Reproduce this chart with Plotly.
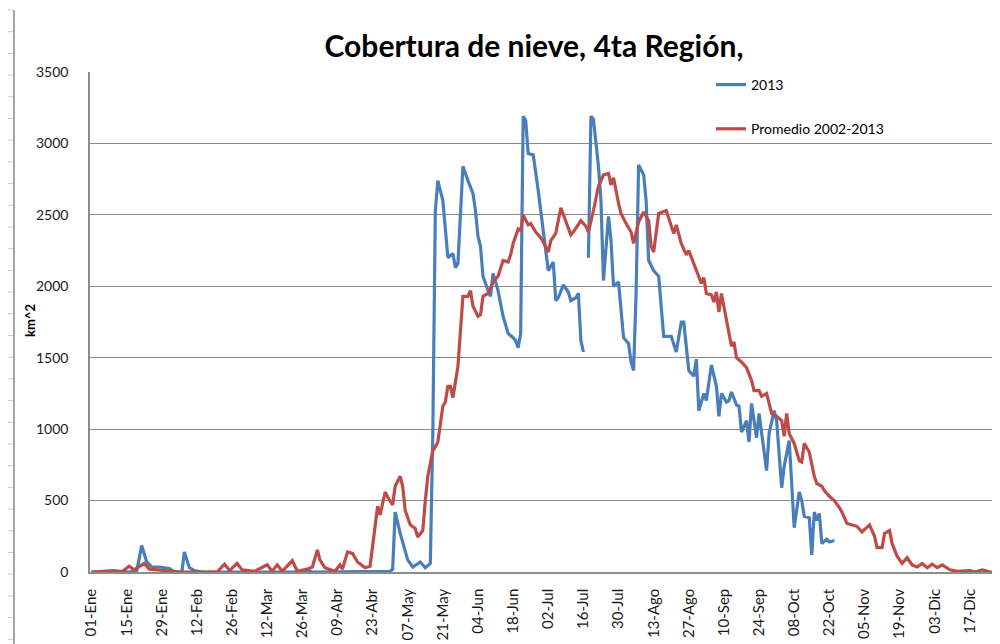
import plotly.graph_objects as go

# dia del año (1 = 01-Ene) y superficie cubierta de nieve en km^2
dias_2013 = [1, 10, 15, 19, 21, 23, 25, 28, 32, 34, 37, 38, 40, 42, 45, 85, 87, 89, 120,
             121, 122, 124, 127, 129, 132, 134, 136, 137, 138, 139, 141, 142, 143, 145, 146,
             147, 148, 149, 151, 153, 154, 155, 156, 157, 159, 160, 161, 163, 165, 167, 169,
             170, 171, 172, 173, 174, 175, 177, 179, 181, 183, 185, 186, 187, 189, 191, 192,
             194, 195, 196, 197, 198, 199, 200, 201, 203, 204, 205, 207, 208, 209, 211, 213,
             215, 216, 217, 218, 219, 221, 222, 223, 225, 227, 229, 232, 234, 236, 237, 239,
             241, 242, 243, 245, 246, 248, 250, 251, 252, 254, 255, 256, 258, 259, 260, 262,
             263, 264, 265, 266, 267, 269, 270, 271, 273, 274, 276, 277, 279, 281, 283, 284,
             285, 287, 288, 289, 290, 291, 292, 294, 295, 297]
km2_2013 = [0, 10, 0, 5, 185, 70, 35, 35, 25, 0, 0, 140, 30, 10, 0, 0, 10, 0, 5,
            20, 420, 270, 85, 35, 70, 30, 60, 970, 2530, 2740, 2600, 2370, 2200, 2230, 2130,
            2160, 2490, 2840, 2740, 2650, 2530, 2350, 2280, 2070, 1970, 1930, 2090, 1970, 1790, 1670, 1640,
            1620, 1570, 1670, 3190, 3160, 2930, 2920, 2670, 2390, 2110, 2170, 1900, 1920, 2010, 1960, 1900,
            1920, 1950, 1620, 1540, None, 2200, 3190, 3170, 2840, 2600, 2040, 2490, 2320, 2000, 2030, 1640,
            1600, 1470, 1410, 1950, 2850, 2780, 2600, 2180, 2110, 2070, 1650, 1650, 1540, 1750, 1750, 1410,
            1370, 1490, 1130, 1250, 1200, 1450, 1300, 1090, 1250, 1190, 1200, 1260, 1170, 1160, 980, 1060,
            910, 1180, 1040, 940, 1110, 850, 710, 970, 1130, 1060, 590, 740, 920, 310, 560, 500,
            390, 380, 120, 420, 360, 410, 200, 230, 210, 220]

dias_prom = [1, 10, 13, 16, 18, 22, 24, 32, 37, 51, 54, 56, 59, 61, 66, 71, 73, 75, 77, 81,
             83, 87, 89, 91, 92, 94, 98, 100, 101, 103, 105, 107, 110, 112, 113, 114, 115, 116,
             118, 119, 121, 122, 124, 125, 126, 128, 130, 131, 133, 134, 135, 137, 138, 139, 141,
             142, 143, 144, 145, 147, 148, 149, 151, 152, 153, 155, 156, 157, 159, 161, 163, 165,
             167, 168, 169, 171, 172, 173, 175, 176, 178, 180, 181, 183, 184, 186, 188, 190, 192,
             193, 195, 196, 198, 199, 201, 203, 205, 207, 208, 209, 211, 212, 214, 216, 217, 219,
             221, 223, 224, 225, 227, 230, 233, 234, 236, 238, 239, 242, 244, 245, 246, 248, 249,
             250, 251, 252, 254, 256, 257, 258, 260, 262, 264, 265, 267, 268, 270, 272, 274, 276,
             277, 278, 279, 281, 283, 284, 285, 287, 289, 290, 292, 293, 295, 297, 299, 300, 302,
             304, 306, 308, 311, 313, 314, 316, 317, 319, 320, 322, 324, 326, 328, 330, 332, 334,
             336, 338, 340, 343, 346, 351, 353, 356, 359, 365]
km2_prom = [0, 5, 0, 40, 15, 60, 20, 10, 0, 0, 55, 10, 60, 15, 5, 50, 5, 50, 5, 80,
            5, 20, 35, 155, 85, 30, 5, 50, 20, 140, 130, 70, 30, 40, 170, 300, 460, 400,
            560, 525, 470, 600, 670, 600, 430, 330, 305, 245, 290, 500, 670, 850, 875, 910, 1160,
            1190, 1300, 1300, 1220, 1440, 1720, 1930, 1930, 1970, 1860, 1790, 1800, 1930, 1950, 2030, 2070, 2180,
            2170, 2220, 2300, 2400, 2390, 2500, 2430, 2440, 2380, 2340, 2310, 2240, 2320, 2370, 2550, 2460, 2360,
            2380, 2440, 2460, 2420, 2380, 2530, 2700, 2780, 2790, 2710, 2760, 2580, 2510, 2440, 2380, 2300, 2450,
            2520, 2460, 2280, 2240, 2510, 2530, 2370, 2430, 2300, 2220, 2250, 2110, 2020, 2060, 1950, 1940, 1890,
            1960, 1820, 1950, 1760, 1580, 1610, 1500, 1470, 1430, 1340, 1270, 1270, 1230, 1250, 1110, 1090, 1060,
            950, 1110, 970, 900, 780, 770, 900, 840, 670, 620, 600, 570, 530, 500, 450, 420, 340,
            330, 320, 280, 330, 250, 170, 170, 270, 290, 200, 110, 60, 100, 50, 35, 60, 30,
            55, 30, 50, 15, 5, 10, 0, 15, 0, 0]

tick_dias = list(range(1, 366, 14))
tick_etiquetas = ['01-Ene', '15-Ene', '29-Ene', '12-Feb', '26-Feb', '12-Mar', '26-Mar', '09-Abr',
                  '23-Abr', '07-May', '21-May', '04-Jun', '18-Jun', '02-Jul', '16-Jul', '30-Jul',
                  '13-Ago', '27-Ago', '10-Sep', '24-Sep', '08-Oct', '22-Oct', '05-Nov', '19-Nov',
                  '03-Dic', '17-Dic', '31-Dic']

fuente = 'Lato, Open Sans, sans-serif'

fig = go.Figure()
fig.add_trace(go.Scatter(x=dias_2013, y=km2_2013, mode='lines', name='2013',
                         line=dict(color='#4A7EBB', width=3.2), legendgroup='a',
                         connectgaps=False))
fig.add_trace(go.Scatter(x=dias_prom, y=km2_prom, mode='lines', name='Promedio 2002-2013',
                         line=dict(color='#BE4B48', width=3.2), legendgroup='b'))

# la pagina html deja 8 px de margen en el body
OFF = 8
W, H = 1000 - OFF, 644 - OFF
ml, mr, mt, mb = 90 - OFF, 0, 72 - OFF, 72
pw, ph = W - ml - mr, H - mt - mb

# coordenadas de pagina -> coordenadas paper
def px_x(p):
    return (p - OFF - ml) / pw

def px_y(p):
    return 1 - (p - OFF - mt) / ph

# regla gris del borde izquierdo (artefacto de la hoja de calculo)
shapes = [dict(type='line', xref='paper', yref='paper', x0=px_x(14), x1=px_x(14),
               y0=px_y(10), y1=px_y(650), line=dict(color='#A6A6A6', width=2))]
yy = 10
while yy < 650:
    shapes.append(dict(type='line', xref='paper', yref='paper', x0=px_x(8), x1=px_x(13),
                       y0=px_y(yy), y1=px_y(yy), line=dict(color='#C8C8D0', width=1)))
    yy += 21.7

fig.update_layout(
    width=W, height=H,
    margin=dict(l=ml, r=mr, t=mt, b=mb, autoexpand=False),
    paper_bgcolor='white', plot_bgcolor='white',
    font=dict(family=fuente, size=14, color='#222222'),
    title=dict(text='<b>Cobertura de nieve, 4ta Región,</b>', xref='container',
               x=(534 - OFF) / W, xanchor='center',
               y=1 - (46 - OFF) / H, yanchor='middle', font=dict(size=30, color='black')),
    legend=dict(x=px_x(711), y=px_y(69), xanchor='left', yanchor='top',
                font=dict(size=14, color='black'), tracegroupgap=23,
                bgcolor='rgba(0,0,0,0)'),
    annotations=[dict(text='<b>km^2</b>', xref='paper', yref='paper', x=px_x(30), y=px_y(321),
                      textangle=-90, showarrow=False, xanchor='center', yanchor='middle',
                      font=dict(size=13, color='black'))],
    shapes=shapes,
    showlegend=True,
)

fig.update_xaxes(range=[0.4, 363.0], tickmode='array', tickvals=tick_dias, ticktext=tick_etiquetas,
                 tickangle=-90, showgrid=False, zeroline=False, showline=True, automargin=False,
                 linecolor='#8C8C8C', linewidth=1.5, ticks='', ticklabelstandoff=9,
                 tickfont=dict(size=15, color='#1A1A1A'))
fig.update_yaxes(range=[0, 3500], tickmode='array', tickvals=list(range(0, 3501, 500)),
                 showgrid=True, gridcolor='#8C8C8C', gridwidth=1, zeroline=False, automargin=False,
                 showline=True, linecolor='#8C8C8C', linewidth=1.5, ticks='',
                 ticklabelstandoff=17, tickfont=dict(size=14, color='#1A1A1A'))

fig.write_html('out.html')
